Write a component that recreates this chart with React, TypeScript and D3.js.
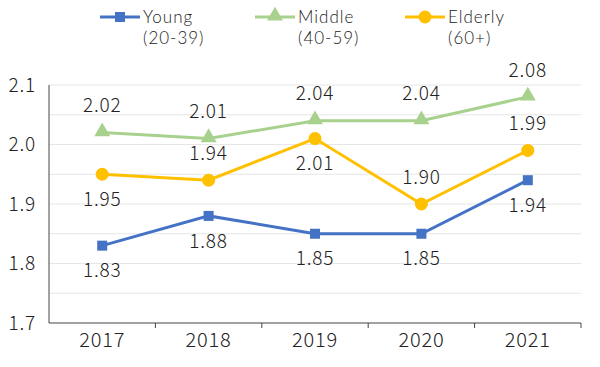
import React from 'react';
import * as d3 from 'd3';

const years = ['2017', '2018', '2019', '2020', '2021'];
const young = [1.83, 1.88, 1.85, 1.85, 1.94];
const middle = [2.02, 2.01, 2.04, 2.04, 2.08];
const elderly = [1.95, 1.94, 2.01, 1.9, 1.99];
// label placement per point: 1 = above, -1 = below
const youngPos = [-1, -1, -1, -1, -1];
const middlePos = [1, 1, 1, 1, 1];
const elderlyPos = [-1, 1, -1, 1, 1];
const yTicks = [1.7, 1.8, 1.9, 2.0, 2.1];
const gridTicks = [1.75, 1.8, 1.85, 1.9, 1.95, 2.0, 2.05, 2.1];

const series = [
  { name: 'Young', sub: '(20-39)', values: young, pos: youngPos, color: '#4472C4', marker: 'square' },
  { name: 'Middle', sub: '(40-59)', values: middle, pos: middlePos, color: '#A9D18E', marker: 'triangle' },
  { name: 'Elderly', sub: '(60+)', values: elderly, pos: elderlyPos, color: '#FFC000', marker: 'circle' },
];

const W = 600;
const H = 367;
const margin = { top: 85, right: 19, bottom: 44, left: 49 };
const font = '"Noto Sans CJK JP", "Noto Sans", sans-serif';
const legendFont = 'Lato, "Noto Sans", sans-serif';

function Marker({ type, x, y, color }: { type: string; x: number; y: number; color: string }) {
  if (type === 'square') return <rect x={x - 5} y={y - 5} width={10} height={10} fill={color} />;
  if (type === 'circle') return <circle cx={x} cy={y} r={6.5} fill={color} />;
  const sym = d3.symbol().type(d3.symbolTriangle).size(110)();
  return <path d={sym || ''} transform={`translate(${x},${y - 1})`} fill={color} />;
}

export default function App() {
  const x = d3.scaleBand().domain(years).range([margin.left, W - margin.right]);
  const y = d3.scaleLinear().domain([1.7, 2.1]).range([H - margin.bottom, margin.top]);
  const cx = (d: string) => (x(d) ?? 0) + x.bandwidth() / 2;
  const line = d3
    .line<number>()
    .x((_, i) => cx(years[i]))
    .y((d) => y(d));

  const legendX = [100, 255, 405];

  return (
    <svg
      width={W}
      height={H}
      style={{ position: 'absolute', left: 0, top: 0, background: '#fff' }}
      fontFamily={font}
      fontWeight={300}
      letterSpacing={0.8}
    >
      {gridTicks.map((t) => (
        <line key={t} x1={margin.left} x2={W - margin.right} y1={y(t)} y2={y(t)} stroke="#e6e6e6" strokeWidth={1} />
      ))}
      <line x1={margin.left} x2={margin.left} y1={y(2.1)} y2={y(1.7)} stroke="#444" strokeWidth={1} />
      <line x1={margin.left} x2={W - margin.right} y1={y(1.7)} y2={y(1.7)} stroke="#444" strokeWidth={1} />
      {years.map((d) => (
        <line key={d} x1={(x(d) ?? 0) + x.bandwidth()} x2={(x(d) ?? 0) + x.bandwidth()} y1={y(1.7)} y2={y(1.7) + 5} stroke="#444" />
      ))}
      {yTicks.map((t) => (
        <text key={t} x={36} y={y(t)} dy="0.35em" textAnchor="end" fontSize={19} fill="#222">
          {t.toFixed(1)}
        </text>
      ))}
      {years.map((d) => (
        <text key={d} x={cx(d)} y={y(1.7) + 24} textAnchor="middle" fontSize={20} fill="#222">
          {d}
        </text>
      ))}
      {series.map((s) => (
        <g key={s.name}>
          <path d={line(s.values) || ''} fill="none" stroke={s.color} strokeWidth={3} />
          {s.values.map((v, i) => (
            <Marker key={i} type={s.marker} x={cx(years[i])} y={y(v)} color={s.color} />
          ))}
          {s.values.map((v, i) => (
            <text
              key={'l' + i}
              x={cx(years[i])}
              y={y(v) + (s.pos[i] > 0 ? -27 : 25)}
              dy="0.35em"
              textAnchor="middle"
              fontSize={19}
              fill="#222"
            >
              {v.toFixed(2)}
            </text>
          ))}
        </g>
      ))}
      {series.map((s, i) => (
        <g key={'leg' + s.name} transform={`translate(${legendX[i]},17)`}>
          <line x1={0} x2={40} y1={0} y2={0} stroke={s.color} strokeWidth={3} />
          <Marker type={s.marker} x={20} y={0} color={s.color} />
          <text x={43} y={0} dy="0.35em" fontSize={17} fontFamily={legendFont} letterSpacing={1} fill="#222">
            {s.name}
          </text>
          <text x={43} y={21} dy="0.35em" fontSize={17} fontFamily={legendFont} letterSpacing={1} fill="#222">
            {s.sub}
          </text>
        </g>
      ))}
    </svg>
  );
}
